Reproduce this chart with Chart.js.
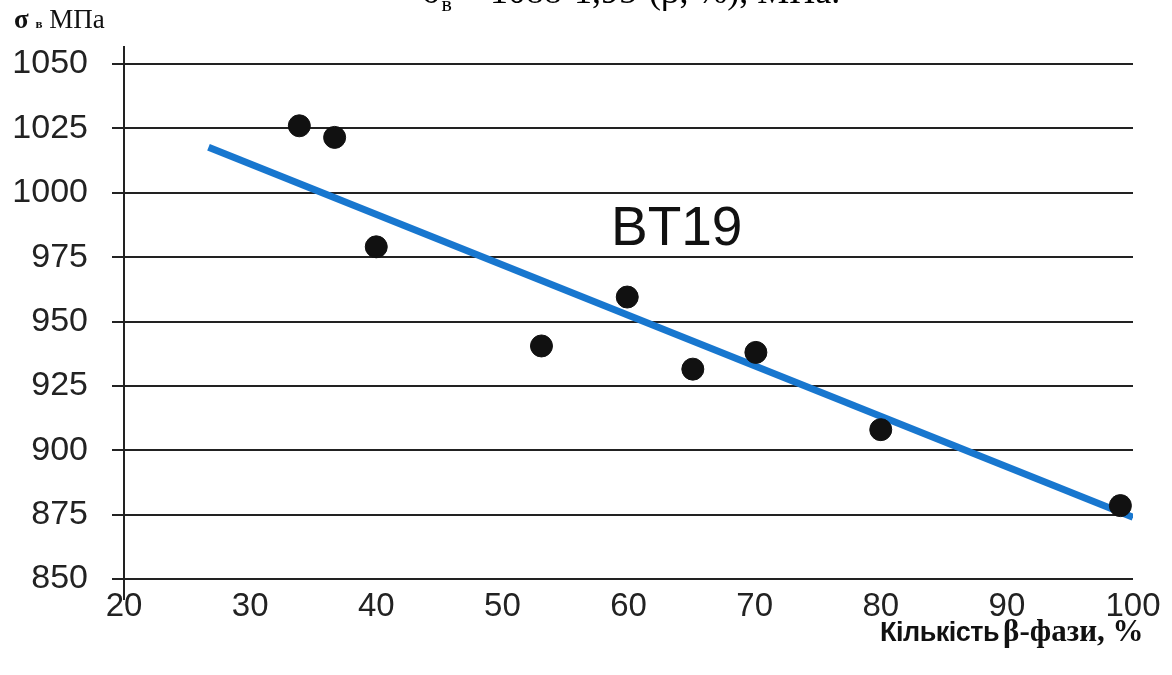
<!DOCTYPE html>
<html>
<head>
<meta charset="utf-8">
<script src="https://cdn.jsdelivr.net/npm/chart.js@4.4.1/dist/chart.umd.min.js"></script>
<style>
  html, body { margin: 0; padding: 0; background: #fff; overflow: hidden; }
  #wrap { position: relative; width: 1172px; height: 675px; }
  #chart { position: absolute; left: 0; top: 0; }
  .formula { position: absolute; left: 422px; top: -30px; font-family: "Liberation Serif", serif; font-size: 36px; color: #000; white-space: nowrap; }
  .ylabel { position: absolute; left: 14px; top: 4px; font-family: "Liberation Serif", serif; font-size: 27px; color: #111; white-space: nowrap; }
  .xlabel { position: absolute; left: 880px; top: 613px; font-weight: bold; color: #111; white-space: nowrap; }
  .bt { position: absolute; left: 611px; top: 194px; font-family: "Liberation Sans", Arial, sans-serif; font-size: 55px; color: #111; }
</style>
</head>
<body>
<div id="wrap">
  <canvas id="chart" width="1172" height="675"></canvas>
  <div class="formula">σ<sub style="font-size:22px">в</sub> = 1088-1,95·(β, %), МПа.</div>
  <div class="ylabel"><b>σ</b> <b style="font-size:13px">в</b> МПа</div>
  <div class="bt">BT19</div>
  <div class="xlabel"><span style="font-family:'Liberation Sans',Arial,sans-serif;font-size:27px;letter-spacing:-0.5px">Кількість</span> <span style="font-family:'Liberation Serif',serif;font-size:31px">β-фази, %</span></div>
</div>
<script>
// виміряні точки: кількість β-фази (%) та σв (МПа)
const betaPhase = [33.9, 36.7, 40.0, 53.1, 59.9, 65.1, 70.1, 80.0, 99.0];
const strength  = [1026, 1021.5, 979, 940.5, 959.5, 931.5, 938, 908, 878.5];

// кінці лінії тренду, як на рисунку
const trendX = [26.7, 100];
const trendY = [1017.7, 874];

const xTicks = [20, 30, 40, 50, 60, 70, 80, 90, 100];
const yTicks = [850, 875, 900, 925, 950, 975, 1000, 1025, 1050];

// продовжена вертикальна вісь (виходить за межі області графіка)
const axisLinePlugin = {
    id: 'axisLine',
    afterDraw(chart) {
        const { ctx, chartArea } = chart;
        ctx.save();
        ctx.strokeStyle = '#222';
        ctx.lineWidth = 2;
        ctx.beginPath();
        ctx.moveTo(chartArea.left, chartArea.top - 18);
        ctx.lineTo(chartArea.left, chartArea.bottom + 21);
        ctx.stroke();
        ctx.restore();
    }
};

const ctx = document.getElementById('chart').getContext('2d');
new Chart(ctx, {
    type: 'scatter',
    data: {
        datasets: [
            {
                label: 'σв',
                data: betaPhase.map((b, i) => ({ x: b, y: strength[i] })),
                backgroundColor: '#111',
                borderColor: '#111',
                pointRadius: 11,
                order: 1
            },
            {
                label: 'тренд',
                type: 'line',
                data: trendX.map((b, i) => ({ x: b, y: trendY[i] })),
                borderColor: '#1877cf',
                borderWidth: 7,
                pointRadius: 0,
                fill: false,
                order: 2
            }
        ]
    },
    options: {
        responsive: false,
        animation: false,
        layout: { padding: { left: 0, top: 64, right: 39, bottom: 36 } },
        plugins: { legend: { display: false }, tooltip: { enabled: false } },
        scales: {
            x: {
                type: 'linear',
                min: 20, max: 100,
                afterBuildTicks: s => { s.ticks = xTicks.map(v => ({ value: v })); },
                afterFit: s => { s.height = 60; },
                grid: { display: false, drawTicks: false },
                border: { display: false },
                ticks: {
                    color: '#222', padding: 8,
                    callback: v => String(v),
                    font: { family: '"Liberation Sans", Arial, sans-serif', size: 33 }
                }
            },
            y: {
                min: 850, max: 1050,
                afterBuildTicks: s => { s.ticks = yTicks.map(v => ({ value: v })); },
                afterFit: s => { s.width = 124; },
                grid: { color: '#222', lineWidth: 2, tickLength: 12 },
                border: { display: false },
                ticks: {
                    color: '#222', padding: 24,
                    callback: v => String(v),
                    font: { family: '"Liberation Sans", Arial, sans-serif', size: 34 }
                }
            }
        }
    },
    plugins: [axisLinePlugin]
});
</script>
</body>
</html>
